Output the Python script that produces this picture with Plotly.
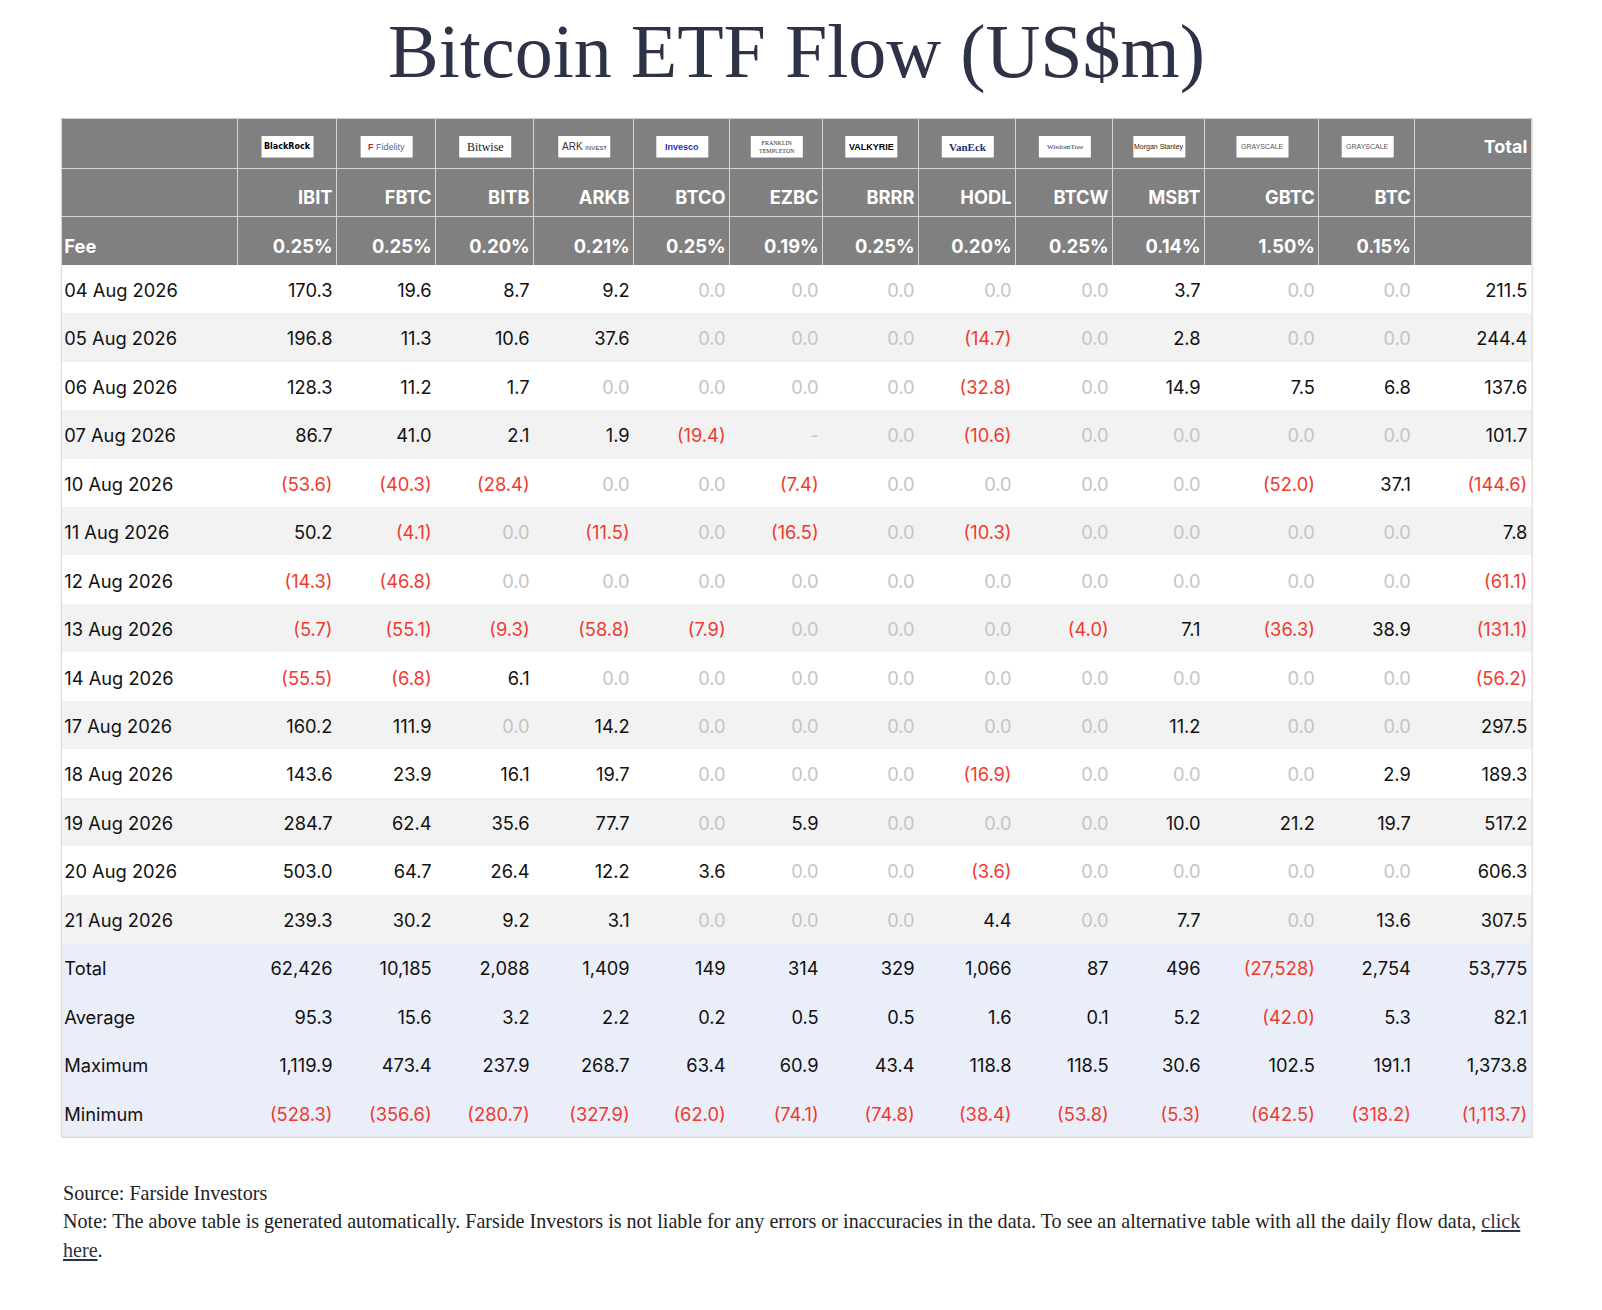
import plotly.graph_objects as go

# figure sits inside the page body (8px default margin)
W, H, OFF = 1586, 1294, 8

dates = ["04 Aug 2026", "05 Aug 2026", "06 Aug 2026", "07 Aug 2026", "10 Aug 2026",
         "11 Aug 2026", "12 Aug 2026", "13 Aug 2026", "14 Aug 2026", "17 Aug 2026",
         "18 Aug 2026", "19 Aug 2026", "20 Aug 2026", "21 Aug 2026"]

tickers = ["IBIT", "FBTC", "BITB", "ARKB", "BTCO", "EZBC", "BRRR", "HODL", "BTCW", "MSBT", "GBTC", "BTC"]
issuers = ["BlackRock", "Fidelity", "Bitwise", "ARK INVEST", "Invesco", "FRANKLIN TEMPLETON",
           "VALKYRIE", "VanEck", "WisdomTree", "Morgan Stanley", "GRAYSCALE", "GRAYSCALE"]
fees = ["0.25%", "0.25%", "0.20%", "0.21%", "0.25%", "0.19%", "0.25%", "0.20%", "0.25%", "0.14%", "1.50%", "0.15%"]

# daily flows, None = no data ("-")
IBIT = [170.3, 196.8, 128.3, 86.7, -53.6, 50.2, -14.3, -5.7, -55.5, 160.2, 143.6, 284.7, 503.0, 239.3]
FBTC = [19.6, 11.3, 11.2, 41.0, -40.3, -4.1, -46.8, -55.1, -6.8, 111.9, 23.9, 62.4, 64.7, 30.2]
BITB = [8.7, 10.6, 1.7, 2.1, -28.4, 0.0, 0.0, -9.3, 6.1, 0.0, 16.1, 35.6, 26.4, 9.2]
ARKB = [9.2, 37.6, 0.0, 1.9, 0.0, -11.5, 0.0, -58.8, 0.0, 14.2, 19.7, 77.7, 12.2, 3.1]
BTCO = [0.0, 0.0, 0.0, -19.4, 0.0, 0.0, 0.0, -7.9, 0.0, 0.0, 0.0, 0.0, 3.6, 0.0]
EZBC = [0.0, 0.0, 0.0, None, -7.4, -16.5, 0.0, 0.0, 0.0, 0.0, 0.0, 5.9, 0.0, 0.0]
BRRR = [0.0] * 14
HODL = [0.0, -14.7, -32.8, -10.6, 0.0, -10.3, 0.0, 0.0, 0.0, 0.0, -16.9, 0.0, -3.6, 4.4]
BTCW = [0.0, 0.0, 0.0, 0.0, 0.0, 0.0, 0.0, -4.0, 0.0, 0.0, 0.0, 0.0, 0.0, 0.0]
MSBT = [3.7, 2.8, 14.9, 0.0, 0.0, 0.0, 0.0, 7.1, 0.0, 11.2, 0.0, 10.0, 0.0, 7.7]
GBTC = [0.0, 0.0, 7.5, 0.0, -52.0, 0.0, 0.0, -36.3, 0.0, 0.0, 0.0, 21.2, 0.0, 0.0]
BTC = [0.0, 0.0, 6.8, 0.0, 37.1, 0.0, 0.0, 38.9, 0.0, 0.0, 2.9, 19.7, 0.0, 13.6]
TOTAL = [211.5, 244.4, 137.6, 101.7, -144.6, 7.8, -61.1, -131.1, -56.2, 297.5, 189.3, 517.2, 606.3, 307.5]

# summary rows (12 ETFs + Total)
sum_total = [62426, 10185, 2088, 1409, 149, 314, 329, 1066, 87, 496, -27528, 2754, 53775]
sum_avg = [95.3, 15.6, 3.2, 2.2, 0.2, 0.5, 0.5, 1.6, 0.1, 5.2, -42.0, 5.3, 82.1]
sum_max = [1119.9, 473.4, 237.9, 268.7, 63.4, 60.9, 43.4, 118.8, 118.5, 30.6, 102.5, 191.1, 1373.8]
sum_min = [-528.3, -356.6, -280.7, -327.9, -62.0, -74.1, -74.8, -38.4, -53.8, -5.3, -642.5, -318.2, -1113.7]

daily = [IBIT, FBTC, BITB, ARKB, BTCO, EZBC, BRRR, HODL, BTCW, MSBT, GBTC, BTC, TOTAL]

GREY_HDR = "#808080"
RED = "#ee3a2f"
MUTED = "#c4c4c4"
INK = "#111111"
ALT = "#f2f2f2"
SUMBG = "#eaeef8"
HDR_LINE = "#d4d4d4"
CLEAR = "rgba(0,0,0,0)"
FONT = "Inter, Roboto, sans-serif"


def px(x):
    return (x - OFF) / W


def py(y):
    return 1 - (y - OFF) / H


def fmt(v, dec=1):
    if v is None:
        return "-"
    s = f"{abs(v):,.{dec}f}"
    return f"({s})" if v < 0 else s


def col_color(v, is_daily):
    if v is None:
        return MUTED
    if v < 0:
        return RED
    if v == 0 and is_daily:
        return MUTED
    return INK


n_daily = len(dates)
row_bg = ["#ffffff" if i % 2 == 0 else ALT for i in range(n_daily)] + [SUMBG] * 4
fills = [GREY_HDR, GREY_HDR] + row_bg

values = [["", "<b>Fee</b>"] + dates + ["Total", "Average", "Maximum", "Minimum"]]
colors = [["white", "white"] + [INK] * (n_daily + 4)]
for j, series in enumerate(daily):
    tk = "<b>" + tickers[j] + "</b>" if j < len(tickers) else ""
    fe = "<b>" + fees[j] + "</b>" if j < len(fees) else ""
    vals = [tk, fe] + [fmt(v) for v in series]
    vals += [fmt(sum_total[j], 0), fmt(sum_avg[j]), fmt(sum_max[j]), fmt(sum_min[j])]
    cols = ["white", "white"] + [col_color(v, True) for v in series]
    cols += [col_color(x, False) for x in (sum_total[j], sum_avg[j], sum_max[j], sum_min[j])]
    values.append(vals)
    colors.append(cols)

ncols = len(values)
header_vals = [""] * (ncols - 1) + ["<b>Total</b>"]

col_px = [176.7, 99.1, 99.1, 98.0, 100.1, 96.0, 93.0, 96.0, 97.0, 97.1, 91.9, 114.4, 96.0, 116.5]
x0 = 61.3
x1 = x0 + sum(col_px)
y_top = 118.3
HDR_H, ROW_H = 50, 48.45
y_bot = y_top + HDR_H + ROW_H * len(fills)

# background layer: fills and header grid
fig = go.Figure(go.Table(
    domain=dict(x=[px(x0), px(x1)], y=[py(y_bot + 4), py(y_top)]),
    columnwidth=col_px,
    header=dict(values=[""] * ncols, fill_color=GREY_HDR, line_color=HDR_LINE, height=HDR_H),
    cells=dict(values=[[""] * len(fills)] * ncols,
               fill_color=[fills] * ncols,
               line_color=[[HDR_LINE, HDR_LINE] + row_bg] * ncols,
               height=ROW_H),
))

# text layer: nudged down so the text sits in the middle of each row,
# and widened so the text hugs the cell edges
PADL, PADR, DY = 5, 3.5, 10
text_w = [col_px[0] + PADL + PADR] + col_px[1:]
fig.add_trace(go.Table(
    domain=dict(x=[px(x0 - PADL), px(x1 + PADR)], y=[py(y_bot + DY + 4), py(y_top + DY)]),
    columnwidth=text_w,
    header=dict(values=header_vals, fill_color=CLEAR, line_color=CLEAR, align="right",
                font=dict(family=FONT, size=18, color="white"), height=HDR_H),
    cells=dict(values=values, fill_color=CLEAR, line_color=CLEAR,
               align=["left"] + ["right"] * (ncols - 1),
               font=dict(family=FONT, size=18.3, color=colors), height=ROW_H),
))

# issuer badges in the first header row
logo_style = {
    "BlackRock": dict(color="#000000", size=8, family="DejaVu Sans", bold=True),
    "Fidelity": dict(color="#3a6db5", size=9, family="Liberation Sans"),
    "Bitwise": dict(color="#222222", size=12, family="Liberation Serif"),
    "ARK INVEST": dict(color="#333333", size=10, family="Liberation Sans"),
    "Invesco": dict(color="#1c35c9", size=9, family="Liberation Sans", bold=True),
    "FRANKLIN TEMPLETON": dict(color="#333333", size=6, family="Liberation Serif"),
    "VALKYRIE": dict(color="#000000", size=9, family="Liberation Sans", bold=True),
    "VanEck": dict(color="#1b2f6e", size=11, family="Liberation Serif", bold=True),
    "WisdomTree": dict(color="#1b2f6e", size=7, family="Liberation Serif"),
    "Morgan Stanley": dict(color="#222222", size=7, family="Liberation Sans"),
    "GRAYSCALE": dict(color="#555555", size=7, family="Liberation Sans"),
}
edges = [x0]
for w in col_px:
    edges.append(edges[-1] + w)
for j, name in enumerate(issuers):
    cx = (edges[j + 1] + edges[j + 2]) / 2
    fig.add_shape(type="rect", xref="paper", yref="paper",
                  x0=px(cx - 26), x1=px(cx + 26), y0=py(157.5), y1=py(136),
                  fillcolor="white", line_width=0, layer="above")
    st = logo_style[name]
    txt = "<b>" + name + "</b>" if st.get("bold") else name
    if name == "Fidelity":
        txt = "<span style='color:#b3261e'><b>F</b></span> " + name
    elif name == "ARK INVEST":
        txt = "ARK <span style='font-size:6px'>INVEST</span>"
    elif name == "FRANKLIN TEMPLETON":
        txt = "FRANKLIN<br>TEMPLETON"
    fig.add_annotation(x=px(cx), y=py(146.7), xref="paper", yref="paper",
                       xanchor="center", yanchor="middle",
                       text=txt, showarrow=False,
                       font=dict(color=st["color"], size=st["size"], family=st["family"]))

# outer border of the body
fig.add_shape(type="rect", xref="paper", yref="paper",
              x0=px(x0), x1=px(x1), y0=py(y_bot), y1=py(y_top),
              line=dict(color="#d8d4cf", width=1), layer="above")

fig.add_annotation(x=px((x0 + x1) / 2), y=py(51), xref="paper", yref="paper", showarrow=False,
                   xanchor="center", yanchor="middle",
                   text="Bitcoin ETF Flow (US$m)",
                   font=dict(family="Liberation Serif, serif", size=76, color="#2e3247"))

foot_font = dict(family="Liberation Serif, serif", size=20.1, color="#222222")
foot_lines = [
    "Source: Farside Investors",
    "Note: The above table is generated automatically. Farside Investors is not liable for any errors or "
    "inaccuracies in the data. To see an alternative table with all the daily flow data, "
    "<span style='color:#2e3247'><u>click</u></span>",
    "<span style='color:#2e3247'><u>here</u></span>.",
]
for i, line in enumerate(foot_lines):
    fig.add_annotation(x=px(x0), y=py(1193 + 28.6 * i), xref="paper", yref="paper",
                       xanchor="left", yanchor="middle", showarrow=False,
                       text=line, font=foot_font)

fig.update_layout(width=W, height=H, margin=dict(l=0, r=0, t=0, b=0),
                  paper_bgcolor="white", plot_bgcolor="white")

fig.write_html("out.html")
